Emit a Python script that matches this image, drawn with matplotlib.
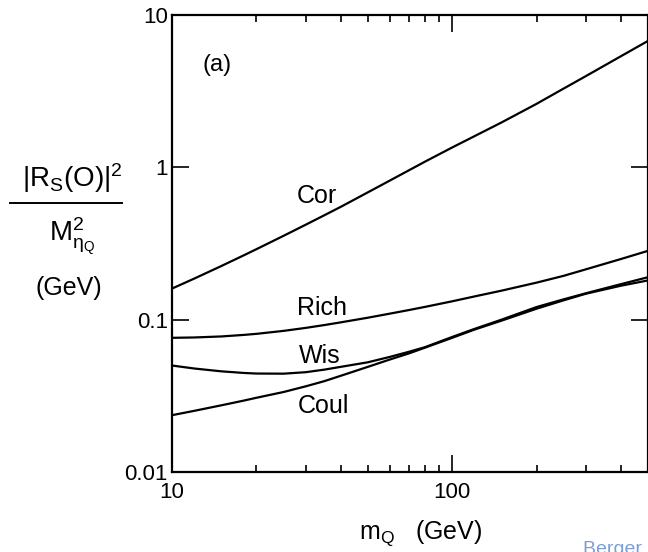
import numpy as np
import matplotlib.pyplot as plt
from matplotlib.lines import Line2D

plt.rcParams['font.family'] = ['Liberation Sans', 'DejaVu Sans']
plt.rcParams['mathtext.fontset'] = 'custom'
plt.rcParams['mathtext.rm'] = 'Liberation Sans'
plt.rcParams['mathtext.it'] = 'Liberation Sans'
plt.rcParams['mathtext.bf'] = 'Liberation Sans:bold'

# quark mass m_Q (GeV)
m_q = [10, 12, 15, 18, 20, 25, 30, 35, 40, 50, 60, 70, 80,
       100, 120, 150, 200, 250, 300, 400, 500]

# |R_S(0)|^2 / M^2 (GeV) for each potential model
cor = [0.160, 0.186, 0.225, 0.264, 0.290, 0.355, 0.420, 0.485, 0.550, 0.685,
       0.820, 0.955, 1.09, 1.35, 1.60, 1.97, 2.61, 3.29, 3.97, 5.36, 6.76]
rich = [0.0760, 0.0764, 0.0776, 0.0794, 0.0807, 0.0844, 0.0883, 0.0922,
        0.0960, 0.103, 0.1096, 0.1156, 0.1213, 0.132, 0.142, 0.155, 0.175,
        0.194, 0.214, 0.250, 0.283]
wis = [0.0500, 0.0478, 0.0458, 0.0447, 0.0443, 0.0442, 0.0452, 0.0470,
       0.0490, 0.0525, 0.0570, 0.0615, 0.0660, 0.0770, 0.0869, 0.100, 0.121,
       0.136, 0.149, 0.171, 0.190]
coul = [0.0236, 0.0252, 0.0274, 0.0294, 0.0307, 0.0335, 0.0365, 0.0395,
        0.0428, 0.0490, 0.0548, 0.0600, 0.0655, 0.0760, 0.0860, 0.0985, 0.118,
        0.134, 0.148, 0.167, 0.181]

curve_names = ['Cor', 'Rich', 'Wis', 'Coul']
label_pos = [(32.9, 0.645), (34.3, 0.120), (33.8, 0.0574), (34.6, 0.0270)]

fig = plt.figure(figsize=(6.48, 5.52), dpi=100)
ax = fig.add_axes([172/648, 80/552, 476/648, 457/552])

for ys in [cor, rich, wis, coul]:
    ax.plot(m_q, ys, color='black', lw=1.6, solid_capstyle='round')

ax.set_xscale('log')
ax.set_yscale('log')
ax.set_xlim(10, 500)
ax.set_ylim(0.01, 10)

ax.tick_params(which='both', direction='in', top=True, right=True, width=1.2)
ax.tick_params(which='major', length=12, labelsize=16)
ax.tick_params(which='minor', length=5)
ax.tick_params(axis='y', which='minor', left=False, right=False)
ax.set_yticks([0.01, 0.1, 1, 10])
ax.set_yticklabels(['0.01', '0.1', '1', '10'])
ax.set_xticks([10, 100])
ax.set_xticklabels(['10', '100'])
ax.tick_params(axis='y', pad=3)
ax.tick_params(axis='x', pad=7)
for s in ax.spines.values():
    s.set_linewidth(1.6)

for name, (xp, yp) in zip(curve_names, label_pos):
    ax.text(xp, yp, name, fontsize=18, ha='center', va='center')
ax.text(0.095, 0.89, '(a)', transform=ax.transAxes, fontsize=17,
        ha='center', va='center')

# y-axis quantity drawn as a fraction
fig.text(72/648, 1 - 178/552, r'$|\mathrm{R_S(O)}|^2$', fontsize=20,
         ha='center', va='center')
fig.add_artist(Line2D([10/648, 122/648], [1 - 203/552, 1 - 203/552],
                      color='black', lw=1.4))
fig.text(72/648, 1 - 237/552, r'$\mathrm{M^2_{\eta_Q}}$', fontsize=20,
         ha='center', va='center')
fig.text(69/648, 1 - 288/552, '(GeV)', fontsize=18, ha='center', va='center')

fig.text(421/648, 1 - 533/552, r'$\mathrm{m_Q}$   (GeV)', fontsize=18,
         ha='center', va='center')

fig.text(583/648, 1 - 541/552, 'Berger et al.', fontsize=14,
         color='#7a9fd6', ha='left', va='top')

fig.savefig('out.png', dpi=100)
